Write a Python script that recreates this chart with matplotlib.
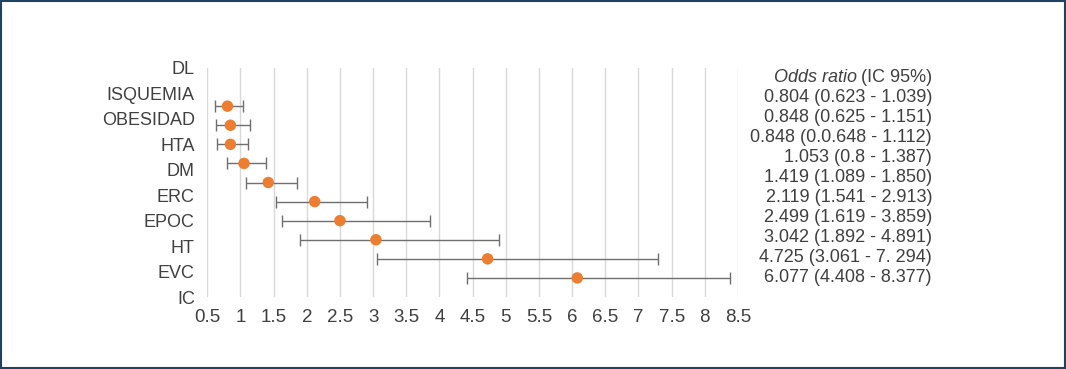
import matplotlib
matplotlib.use("Agg")
import matplotlib.pyplot as plt
from matplotlib.patches import Rectangle
import numpy as np

plt.rcParams['font.family'] = ['Liberation Sans', 'DejaVu Sans']

categories = ["DL", "ISQUEMIA", "OBESIDAD", "HTA", "DM", "ERC", "EPOC", "HT", "EVC", "IC"]
odds = [0.804, 0.848, 0.848, 1.053, 1.419, 2.119, 2.499, 3.042, 4.725, 6.077]
ci_low = [0.623, 0.625, 0.648, 0.8, 1.089, 1.541, 1.619, 1.892, 3.061, 4.408]
ci_high = [1.039, 1.151, 1.112, 1.387, 1.850, 2.913, 3.859, 4.891, 7.294, 8.377]
row_texts = ["0.804 (0.623 - 1.039)", "0.848 (0.625 - 1.151)", "0.848 (0.0.648 - 1.112)",
             "1.053 (0.8 - 1.387)", "1.419 (1.089 - 1.850)", "2.119 (1.541 - 2.913)",
             "2.499 (1.619 - 3.859)", "3.042 (1.892 - 4.891)", "4.725 (3.061 - 7. 294)",
             "6.077 (4.408 - 8.377)"]
x_ticks = [0.5, 1, 1.5, 2, 2.5, 3, 3.5, 4, 4.5, 5, 5.5, 6, 6.5, 7, 7.5, 8, 8.5]
x_tick_labels = ["0.5", "1", "1.5", "2", "2.5", "3", "3.5", "4", "4.5", "5", "5.5", "6", "6.5", "7", "7.5", "8", "8.5"]

W, H = 1066, 369
fig = plt.figure(figsize=(W / 100, H / 100), dpi=100)
fig.patch.set_facecolor("white")
TXT = "#404040"

ax = fig.add_axes([207.3 / W, 1 - 297 / H, (738 - 207.3) / W, (297 - 68) / H])
n = len(odds)
ypos = np.arange(n, 0, -1)
odds_a = np.array(odds)
err = [odds_a - np.array(ci_low), np.array(ci_high) - odds_a]
ax.errorbar(odds, ypos, xerr=err, fmt="none", ecolor="#6f6f6f", elinewidth=1.0,
            capsize=4, capthick=1.0, zorder=2)
ax.scatter(odds, ypos, s=68, color="#ED7D31", zorder=3, edgecolors="none")

ax.set_xlim(0.5, 8.5)
ax.set_ylim(0, 12)
ax.set_xticks(x_ticks)
ax.set_xticklabels(x_tick_labels, fontsize=13.5, color=TXT)
label_pos = [12 - i * 12 / 9 for i in range(len(categories))]
ax.set_yticks(label_pos)
ax.set_yticklabels(categories, fontsize=13, color=TXT)
ax.tick_params(axis="both", length=0)
ax.tick_params(axis="x", pad=9)
ax.tick_params(axis="y", pad=9)
ax.grid(axis="x", color="#d9d9d9", linewidth=1)
ax.set_axisbelow(True)
for s in ax.spines.values():
    s.set_visible(False)

# right-hand column
xr = 932 / W
hdr_y = 1 - 78 / H
t2 = fig.text(xr, hdr_y, "(IC 95%)", ha="right", va="center", fontsize=13, color=TXT)
fig.canvas.draw()
bb = t2.get_window_extent()
fig.text(bb.x0 / W - 4 / W, hdr_y, "Odds ratio", ha="right", va="center", fontsize=13,
         color=TXT, style="italic")
for i, t in enumerate(row_texts):
    fig.text(xr, 1 - (98 + 20 * i) / H, t, ha="right", va="center", fontsize=13, color=TXT)

border = Rectangle((1 / W, 1 / H), 1 - 2 / W, 1 - 2 / H, transform=fig.transFigure,
                   fill=False, edgecolor="#1F4262", linewidth=1.5)
fig.patches.append(border)

fig.savefig("out.png", dpi=100)
